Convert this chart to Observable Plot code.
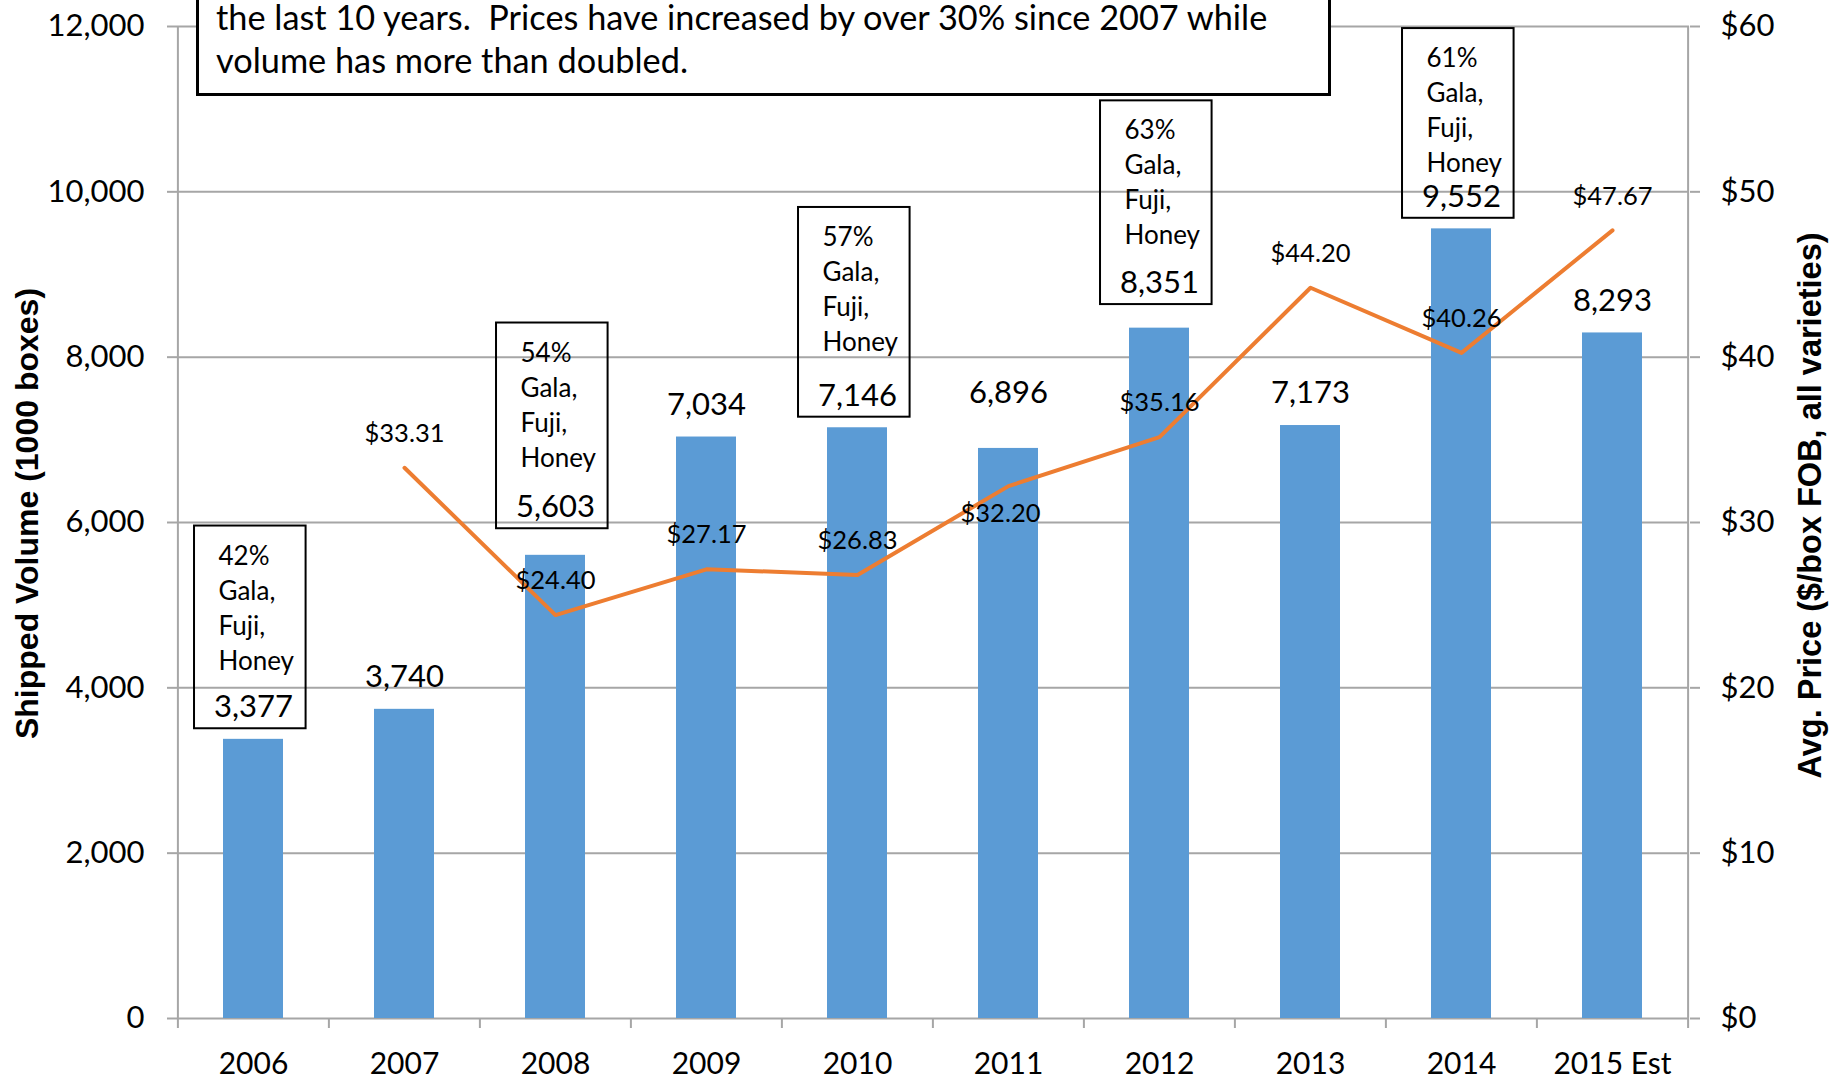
<!DOCTYPE html>
<html>
<head>
<meta charset="utf-8">
<script src="https://cdn.jsdelivr.net/npm/d3@7"></script>
<script src="https://cdn.jsdelivr.net/npm/@observablehq/plot@0.6"></script>
<style>
  html, body { margin: 0; padding: 0; background: #fff; overflow: hidden; }
  #wrap { position: relative; width: 1829px; height: 1078px; }
  #wrap svg { display: block; }
  #note {
    position: absolute; left: 196px; top: -3px; width: 1135px; height: 99px;
    box-sizing: border-box; border: 3px solid #000; background: #fff;
    font-family: Lato, "Open Sans", sans-serif; font-size: 34.3px;
    padding-left: 17px; white-space: pre; color: #000;
  }
  #note .l1 { line-height: 33px; height: 33px; }
  #note .l2 { line-height: 44px; margin-top: 5px; }
</style>
</head>
<body>
<div id="wrap"></div>
<script>
// ---------- data ----------
const years = ["2006", "2007", "2008", "2009", "2010", "2011", "2012", "2013", "2014", "2015 Est"];
const volume = [3377, 3740, 5603, 7034, 7146, 6896, 8351, 7173, 9552, 8293];
const price = [null, 33.31, 24.40, 27.17, 26.83, 32.20, 35.16, 44.20, 40.26, 47.67];
const boxedYears = ["2006", "2008", "2010", "2012", "2014"];
const shares = ["42%", "54%", "57%", "63%", "61%"];
const varietyLines = ["Gala,", "Fuji,", "Honey"];
const volumeTicks = [0, 2000, 4000, 6000, 8000, 10000, 12000];
const priceTicks = [0, 10, 20, 30, 40, 50, 60];
const leftTitle = "Shipped Volume (1000 boxes)";
const rightTitle = "Avg. Price ($/box FOB, all varieties)";
const noteLines = [
  "the last 10 years.  Prices have increased by over 30% since 2007 while",
  "volume has more than doubled."
];

// ---------- layout tweaks (label placement, px) ----------
const volumeLabelLift = {"2008": 16, "2011": 23, "2012": 13};
const shareLabelLift = {"2008": 19, "2010": 7, "2012": 14, "2014": -13};

// ---------- derived ----------
const data = years.map((y, i) => ({year: y, volume: volume[i], price: price[i]}));
const priceData = data.filter(d => d.price != null);
const priceToVolume = volumeTicks[volumeTicks.length - 1] / priceTicks[priceTicks.length - 1];
const boxed = data.filter(d => boxedYears.includes(d.year))
  .map(d => ({...d, share: shares[boxedYears.indexOf(d.year)]}));
const plain = data.filter(d => !boxedYears.includes(d.year));
const fmt = d3.format(",");

const W = 1829, H = 1078, ML = 177, MR = 140, MT = 26, MB = 60;
const step = (W - ML - MR) / years.length;
const grid = "#A6A6A6";
const labelFont = "Lato, 'Open Sans', sans-serif";
const titleFont = "'Liberation Sans', Arial, sans-serif";

// group rows by lift so each text mark gets a constant dy
function byLift(rows, lifts) {
  const groups = d3.group(rows, d => lifts[d.year] || 0);
  return Array.from(groups, ([lift, rs]) => ({lift, rows: rs}));
}

const volumeMarks = [];
for (const {lift, rows} of byLift(plain, volumeLabelLift)) {
  volumeMarks.push(Plot.text(rows, {x: "year", y: "volume", text: d => fmt(d.volume),
    dy: -32 - lift, fontSize: 31, fill: "#000"}));
}
const boxedVolumeMarks = boxed.map(d => Plot.text([d], {x: "year", y: "volume", text: r => fmt(r.volume),
  dy: -32 - (volumeLabelLift[d.year] || 0), fontSize: 31, fill: "#000", ariaDescription: "boxed-volume"}));
const shareMarks = boxed.map(d => Plot.text([d], {x: "year", y: "volume",
  text: r => [r.share, ...varietyLines].join("\n"),
  textAnchor: "start", dx: -35, dy: -133.5 - (shareLabelLift[d.year] || 0), lineAnchor: "middle",
  lineHeight: 35 / 26, fontSize: 26, fill: "#000", ariaDescription: "share-labels"}));

const chart = Plot.plot({
  width: W, height: H,
  marginLeft: ML, marginRight: MR, marginTop: MT, marginBottom: MB,
  style: {fontFamily: labelFont, color: "#000", background: "#fff", overflow: "visible"},
  x: {type: "band", domain: years, paddingInner: 0.6, paddingOuter: 0.3, axis: null},
  y: {domain: [0, 12000], axis: null},
  marks: [
    Plot.ruleY(volumeTicks, {stroke: grid, strokeWidth: 2}),
    Plot.ruleX([years[0]], {dx: -step / 2, y1: 12000, y2: 0, insetBottom: -10, stroke: grid, strokeWidth: 2}),
    Plot.ruleX(years.slice(1), {dx: -step / 2, y1: 0, y2: 0, insetBottom: -10, stroke: grid, strokeWidth: 2}),
    Plot.ruleX([years[years.length - 1]], {dx: step / 2, y1: 12000, y2: 0, insetBottom: -10, stroke: grid, strokeWidth: 2}),
    Plot.axisY(volumeTicks, {anchor: "left", tickSize: 10, tickPadding: 23, tickFormat: fmt,
      fontSize: 31, stroke: grid, strokeWidth: 2, fill: "#000", label: null}),
    Plot.axisY(volumeTicks, {anchor: "right", tickSize: 10, tickPadding: 21,
      tickFormat: d => "$" + (d / priceToVolume), fontSize: 31, stroke: grid, strokeWidth: 2, fill: "#000", label: null}),
    Plot.axisX(years, {anchor: "bottom", tickSize: 0, tickPadding: 34, fontSize: 30, fill: "#000", label: null}),
    Plot.barY(data, {x: "year", y: "volume", fill: "#5B9BD5"}),
    Plot.line(priceData, {x: "year", y: d => d.price * priceToVolume, stroke: "#ED7D31", strokeWidth: 4,
      strokeLinejoin: "round", strokeLinecap: "round"}),
    Plot.text(priceData.filter(d => d.year !== "2011"), {x: "year", y: d => d.price * priceToVolume,
      text: d => "$" + d.price.toFixed(2), dy: -34, fontSize: 25.5, fill: "#000"}),
    Plot.text(priceData.filter(d => d.year === "2011"), {x: "year", y: d => d.price * priceToVolume,
      text: d => "$" + d.price.toFixed(2), dx: -8, dy: 28, fontSize: 25.5, fill: "#000"}),
    ...volumeMarks,
    ...boxedVolumeMarks,
    ...shareMarks,
    Plot.text([leftTitle], {frameAnchor: "left", text: d => d, rotate: -90, dx: -149.5, dy: -9,
      textAnchor: "middle", lineAnchor: "middle",
      fontSize: 32, fontWeight: "bold", fontFamily: titleFont, fill: "#000"}),
    Plot.text([rightTitle], {frameAnchor: "right", text: d => d, rotate: -90, dx: 121, dy: -17,
      textAnchor: "middle", lineAnchor: "middle",
      fontSize: 32.5, fontWeight: "bold", fontFamily: titleFont, fill: "#000"})
  ]
});

const wrap = document.getElementById("wrap");
wrap.appendChild(chart);

const note = document.createElement("div");
note.id = "note";
noteLines.forEach((line, i) => {
  const div = document.createElement("div");
  div.className = "l" + (i + 1);
  div.textContent = line;
  note.appendChild(div);
});
wrap.appendChild(note);

function drawBoxes() {
  const svgRect = chart.getBoundingClientRect();
  const shareTexts = chart.querySelectorAll('g[aria-description="share-labels"] text');
  const volTexts = chart.querySelectorAll('g[aria-description="boxed-volume"] text');
  const layer = d3.select(chart).append("g").attr("aria-label", "label boxes");
  shareTexts.forEach((t, i) => {
    const a = t.getBoundingClientRect();
    const b = volTexts[i].getBoundingClientRect();
    const left = Math.min(a.left, b.left) - svgRect.left - 20;
    const right = Math.max(a.right, b.right) - svgRect.left + 11;
    const top = Math.min(a.top, b.top) - svgRect.top - 13;
    const bottom = Math.max(a.bottom, b.bottom) - svgRect.top + 4;
    layer.append("rect")
      .attr("x", left).attr("y", top)
      .attr("width", right - left).attr("height", bottom - top)
      .attr("fill", "none").attr("stroke", "#000").attr("stroke-width", 2);
  });
}
drawBoxes();
</script>
</body>
</html>
